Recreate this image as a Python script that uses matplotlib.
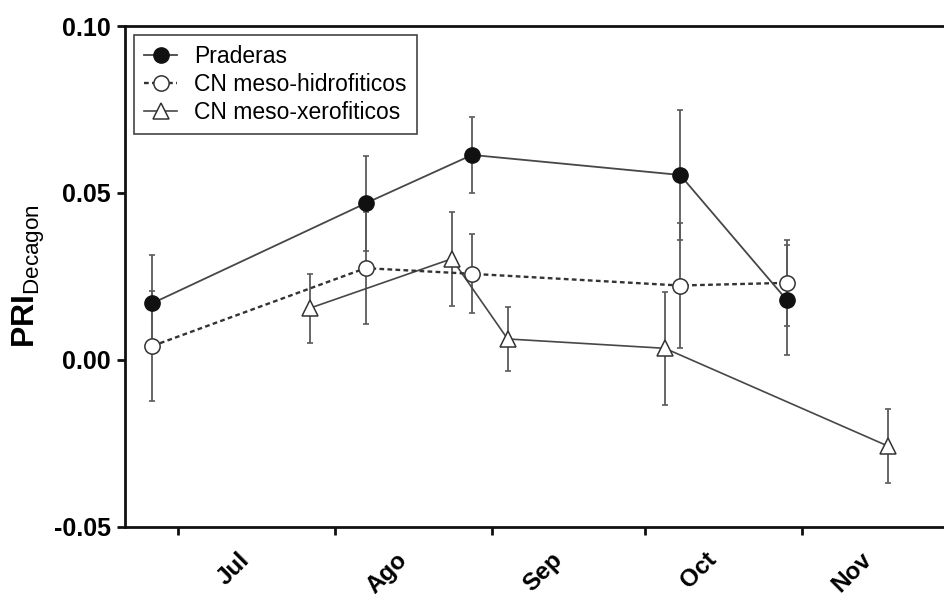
import matplotlib

matplotlib.use('Agg')
import matplotlib.pyplot as plt

# days counted from 1 July
praderas_day = [-5, 37, 58, 99, 120]
praderas_val = [0.0170, 0.0469, 0.0614, 0.0554, 0.0180]
praderas_err = [0.0144, 0.0142, 0.0115, 0.0195, 0.0165]

hidro_day = [-5, 37, 58, 99, 120]
hidro_val = [0.0042, 0.0275, 0.0258, 0.0223, 0.0231]
hidro_err = [0.0164, 0.0167, 0.0118, 0.0186, 0.0129]

xero_day = [26, 54, 65, 96, 140]
xero_val = [0.0155, 0.0303, 0.0063, 0.0035, -0.0258]
xero_err = [0.0103, 0.0141, 0.0095, 0.0170, 0.0110]

month_starts = [0, 31, 62, 92, 123]
month_label_pos = [13.5, 44.5, 75, 105.5, 136]
month_names = ['Jul', 'Ago', 'Sep', 'Oct', 'Nov']
y_ticks = [-0.05, 0.00, 0.05, 0.10]

plt.rcParams['font.family'] = ['Liberation Sans', 'DejaVu Sans']
plt.rcParams['axes.unicode_minus'] = False
plt.rcParams['mathtext.fontset'] = 'custom'
plt.rcParams['mathtext.rm'] = 'Liberation Sans'
plt.rcParams['mathtext.bf'] = 'Liberation Sans:bold'

fig = plt.figure(figsize=(9.44, 5.95), dpi=100)
ax = fig.add_axes([0.1324, 0.1143, 0.8676, 0.842])

err_kw = dict(fmt='none', ecolor='#5a5a5a', elinewidth=1.3, capsize=2.5, capthick=1.2)
ax.errorbar(xero_day, xero_val, yerr=xero_err, **err_kw)
ax.errorbar(hidro_day, hidro_val, yerr=hidro_err, **err_kw)
ax.errorbar(praderas_day, praderas_val, yerr=praderas_err, **err_kw)

l3, = ax.plot(xero_day, xero_val, '-', color='#474747', lw=1.2, marker='^', ms=11,
              mfc='white', mec='#333333', mew=1.1, label='CN meso-xerofiticos')
l2, = ax.plot(hidro_day, hidro_val, color='#333333', lw=1.7, ls=(0, (2, 1.4)), marker='o', ms=11,
              mfc='white', mec='#333333', mew=1.1, label='CN meso-hidrofiticos')
l1, = ax.plot(praderas_day, praderas_val, '-', color='#474747', lw=1.3, marker='o', ms=11,
              mfc='#111111', mec='#111111', mew=1.0, label='Praderas')

ax.set_xlim(-10.4, 151)
ax.set_ylim(-0.05, 0.10)

ax.set_yticks(y_ticks)
ax.set_yticklabels(['%.2f' % v for v in y_ticks], fontsize=18, fontweight='bold')
ax.set_xticks(month_starts)
ax.set_xticklabels([])
ax.set_xticks(month_label_pos, minor=True)
ax.set_xticklabels(month_names, minor=True, fontsize=17.5, fontweight='bold',
                   rotation=45, ha='right', va='center', rotation_mode='anchor')
ax.tick_params(axis='x', which='minor', length=0, pad=21)
ax.tick_params(axis='both', which='major', direction='out', length=6, width=2, color='#111111')
ax.tick_params(axis='y', pad=4)

for side in ['left', 'bottom', 'top']:
    ax.spines[side].set_linewidth(2)
    ax.spines[side].set_color('#111111')
ax.spines['right'].set_visible(False)

ax.set_ylabel(r'$\mathbf{PRI}_{\mathrm{Decagon}}$', fontsize=23)
ax.yaxis.set_label_coords(-0.095, 0.5)

leg = ax.legend(handles=[l1, l2, l3], loc='upper left', fontsize=16.5, frameon=True,
                fancybox=False, framealpha=1, edgecolor='#444444', handlelength=1.4,
                handletextpad=0.75, labelspacing=0.2, borderpad=0.45, borderaxespad=0.4)
leg.get_frame().set_linewidth(1.2)

fig.savefig('out.png', dpi=100)
